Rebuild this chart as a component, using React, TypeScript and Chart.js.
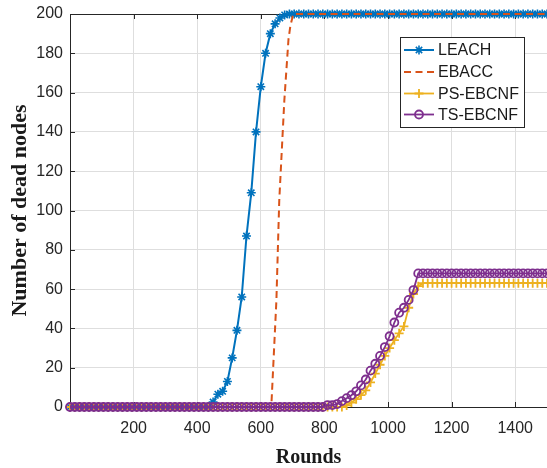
import React, { useEffect, useRef } from 'react';
import { Chart, registerables } from 'chart.js';
import { drawPoint } from 'chart.js/helpers';

Chart.register(...registerables);

// Rounds at which LEACH / PS-EBCNF / TS-EBCNF were sampled
const ROUNDS = [
  0, 15, 30, 45, 60, 75, 90, 105, 120, 135,
  150, 165, 180, 195, 210, 225, 240, 255, 270, 285,
  300, 315, 330, 345, 360, 375, 390, 405, 420, 435,
  450, 465, 480, 495, 510, 525, 540, 555, 570, 585,
  600, 615, 630, 645, 660, 675, 690, 705, 720, 735,
  750, 765, 780, 795, 810, 825, 840, 855, 870, 885,
  900, 915, 930, 945, 960, 975, 990, 1005, 1020, 1035,
  1050, 1065, 1080, 1095, 1110, 1125, 1140, 1155, 1170, 1185,
  1200, 1215, 1230, 1245, 1260, 1275, 1290, 1305, 1320, 1335,
  1350, 1365, 1380, 1395, 1410, 1425, 1440, 1455, 1470, 1485,
  1500,
];

const LEACH = [
  0, 0, 0, 0, 0, 0, 0, 0, 0, 0,
  0, 0, 0, 0, 0, 0, 0, 0, 0, 0,
  0, 0, 0, 0, 0, 0, 0, 0, 0, 0,
  2.5, 6.5, 8, 13, 25, 39, 56, 87, 109, 140,
  163, 180, 190, 195, 198, 199.5, 200, 200, 200, 200,
  200, 200, 200, 200, 200, 200, 200, 200, 200, 200,
  200, 200, 200, 200, 200, 200, 200, 200, 200, 200,
  200, 200, 200, 200, 200, 200, 200, 200, 200, 200,
  200, 200, 200, 200, 200, 200, 200, 200, 200, 200,
  200, 200, 200, 200, 200, 200, 200, 200, 200, 200,
  200,
];

const EBACC_ROUNDS = [0, 633, 649, 658, 674, 687, 693, 702, 1500];
const EBACC = [0, 0, 54, 105, 156, 187, 194, 200, 200];

const PS_EBCNF = [
  0, 0, 0, 0, 0, 0, 0, 0, 0, 0,
  0, 0, 0, 0, 0, 0, 0, 0, 0, 0,
  0, 0, 0, 0, 0, 0, 0, 0, 0, 0,
  0, 0, 0, 0, 0, 0, 0, 0, 0, 0,
  0, 0, 0, 0, 0, 0, 0, 0, 0, 0,
  0, 0, 0, 0, 0, 0, 0, 0, 0.8, 2.3,
  4, 6, 8.5, 12.5, 17, 21.5, 26, 30, 34, 37.5,
  41, 50.5, 57.5, 61.5, 63, 63, 63, 63, 63, 63,
  63, 63, 63, 63, 63, 63, 63, 63, 63, 63,
  63, 63, 63, 63, 63, 63, 63, 63, 63, 63,
  63,
];

const TS_EBCNF = [
  0, 0, 0, 0, 0, 0, 0, 0, 0, 0,
  0, 0, 0, 0, 0, 0, 0, 0, 0, 0,
  0, 0, 0, 0, 0, 0, 0, 0, 0, 0,
  0, 0, 0, 0, 0, 0, 0, 0, 0, 0,
  0, 0, 0, 0, 0, 0, 0, 0, 0, 0,
  0, 0, 0, 0, 1, 1, 1.5, 3, 4.5, 6,
  8, 11, 14, 18.5, 22, 26, 30.5, 36, 43, 48,
  50.5, 54.5, 59.5, 68, 68, 68, 68, 68, 68, 68,
  68, 68, 68, 68, 68, 68, 68, 68, 68, 68,
  68, 68, 68, 68, 68, 68, 68, 68, 68, 68,
  68,
];

const X_TICKS = [200, 400, 600, 800, 1000, 1200, 1400];
const Y_TICKS = [0, 20, 40, 60, 80, 100, 120, 140, 160, 180, 200];
const SERIES_NAMES = ['LEACH', 'EBACC', 'PS-EBCNF', 'TS-EBCNF'];
const X_TITLE = 'Rounds';
const Y_TITLE = 'Number of dead nodes';

const AXIS_COLOR = '#262626';
const GRID_COLOR = '#dedede';

const framePlugin = {
  id: 'frame',
  beforeDatasetsDraw(chart: any) {
    const { ctx, chartArea, scales } = chart;
    const { left, right, top, bottom } = chartArea;
    ctx.save();
    ctx.strokeStyle = AXIS_COLOR;
    ctx.lineWidth = 1;
    ctx.beginPath();
    ctx.moveTo(left, top + 0.5);
    ctx.lineTo(right, top + 0.5);
    X_TICKS.forEach((v) => {
      const px = Math.round(scales.x.getPixelForValue(v)) + 0.5;
      ctx.moveTo(px, bottom);
      ctx.lineTo(px, bottom - 5);
      ctx.moveTo(px, top);
      ctx.lineTo(px, top + 5);
    });
    Y_TICKS.forEach((v) => {
      const py = Math.round(scales.y.getPixelForValue(v)) + 0.5;
      ctx.moveTo(left, py);
      ctx.lineTo(left + 5, py);
    });
    ctx.stroke();
    ctx.restore();
  },
};

const legendBoxPlugin = {
  id: 'legendBox',
  afterDraw(chart: any) {
    const { ctx } = chart;
    const bx = 400;
    const by = 37;
    const bw = 124;
    const bh = 90;
    ctx.save();
    ctx.fillStyle = '#ffffff';
    ctx.fillRect(bx, by, bw, bh);
    ctx.strokeStyle = AXIS_COLOR;
    ctx.lineWidth = 1;
    ctx.strokeRect(Math.round(bx) + 0.5, Math.round(by) + 0.5, bw, bh);
    const rows = [13, 35, 56.5, 77.5];
    chart.data.datasets.forEach((ds: any, i: number) => {
      const y = by + rows[i];
      ctx.save();
      ctx.strokeStyle = ds.borderColor;
      ctx.lineWidth = ds.borderWidth;
      ctx.setLineDash(ds.borderDash || []);
      ctx.beginPath();
      ctx.moveTo(bx + 4, y);
      ctx.lineTo(bx + 34, y);
      ctx.stroke();
      ctx.setLineDash([]);
      if (ds.pointRadius > 0) {
        ctx.strokeStyle = ds.pointBorderColor;
        ctx.fillStyle = ds.pointBackgroundColor;
        ctx.lineWidth = ds.pointBorderWidth;
        drawPoint(ctx, { pointStyle: ds.pointStyle, radius: ds.pointRadius, rotation: 0, borderWidth: ds.pointBorderWidth } as any, bx + 19, y);
      }
      ctx.restore();
      ctx.fillStyle = '#1a1a1a';
      ctx.font = '16px "Liberation Sans", Arial, sans-serif';
      ctx.textAlign = 'left';
      ctx.textBaseline = 'middle';
      ctx.fillText(ds.label, bx + 38, y + 1);
    });
    ctx.restore();
  },
};

const zeroPadding = (s: any) => {
  s.paddingTop = 0;
  s.paddingBottom = 0;
  s.paddingLeft = 0;
  s.paddingRight = 0;
};

export default function App() {
  const ref = useRef<HTMLCanvasElement | null>(null);

  useEffect(() => {
    document.body.style.margin = '0';
    const canvas = ref.current;
    if (!canvas) return;
    const tickFont = { family: '"Liberation Sans", Arial, sans-serif', size: 16 };
    const chart = new Chart(canvas, {
      type: 'line',
      data: {
        datasets: [
          {
            label: SERIES_NAMES[0],
            data: ROUNDS.map((r, i) => ({ x: r, y: LEACH[i] })),
            borderColor: '#0072BD',
            backgroundColor: '#0072BD',
            borderWidth: 2,
            pointStyle: 'star',
            pointRadius: 4.5,
            pointBorderWidth: 1.6,
            pointBorderColor: '#0072BD',
            pointBackgroundColor: '#0072BD',
            order: 3,
            clip: 10,
          },
          {
            label: SERIES_NAMES[1],
            data: EBACC_ROUNDS.map((r, i) => ({ x: r, y: EBACC[i] })),
            borderColor: '#D95319',
            backgroundColor: '#D95319',
            borderWidth: 2,
            borderDash: [7, 4.5],
            pointRadius: 0,
            order: 2,
            clip: 10,
          },
          {
            label: SERIES_NAMES[2],
            data: ROUNDS.map((r, i) => ({ x: r, y: PS_EBCNF[i] })),
            borderColor: '#EDB120',
            backgroundColor: '#EDB120',
            borderWidth: 1.8,
            pointStyle: 'cross',
            pointRadius: 4.5,
            pointBorderWidth: 1.8,
            pointBorderColor: '#EDB120',
            pointBackgroundColor: '#EDB120',
            order: 1,
            clip: 10,
          },
          {
            label: SERIES_NAMES[3],
            data: ROUNDS.map((r, i) => ({ x: r, y: TS_EBCNF[i] })),
            borderColor: '#7E2F8E',
            backgroundColor: '#7E2F8E',
            borderWidth: 1.8,
            pointStyle: 'circle',
            pointRadius: 4,
            pointBorderWidth: 1.8,
            pointBorderColor: '#7E2F8E',
            pointBackgroundColor: 'rgba(255,255,255,0)',
            order: 0,
            clip: 10,
          },
        ] as any,
      },
      options: {
        animation: false,
        responsive: false,
        devicePixelRatio: 1,
        layout: { autoPadding: false, padding: { top: 14, right: 0, left: 0, bottom: 0 } },
        plugins: {
          legend: { display: false },
          tooltip: { enabled: false },
        },
        scales: {
          x: {
            type: 'linear',
            min: 0,
            max: 1500,
            afterBuildTicks: (s: any) => {
              s.ticks = X_TICKS.map((v) => ({ value: v }));
            },
            afterFit: (s: any) => {
              s.height = 61;
              zeroPadding(s);
            },
            grid: { color: GRID_COLOR, drawTicks: false, lineWidth: 1 },
            border: { color: AXIS_COLOR, width: 1 },
            ticks: { color: AXIS_COLOR, font: tickFont, padding: 12, maxRotation: 0, autoSkip: false, callback: (v: any) => String(v) },
            title: {
              display: true,
              text: X_TITLE,
              color: '#1a1a1a',
              font: { family: '"Liberation Serif", "Times New Roman", serif', size: 20, weight: 'bold', lineHeight: 1 },
              padding: { top: 0, bottom: 0.5 },
            },
          },
          y: {
            type: 'linear',
            min: 0,
            max: 200,
            afterBuildTicks: (s: any) => {
              s.ticks = Y_TICKS.map((v) => ({ value: v }));
            },
            afterFit: (s: any) => {
              s.width = 70;
              zeroPadding(s);
            },
            grid: { color: GRID_COLOR, drawTicks: false, lineWidth: 1 },
            border: { color: AXIS_COLOR, width: 1 },
            ticks: { color: AXIS_COLOR, font: tickFont, padding: 7, callback: (v: any) => String(v) },
            title: {
              display: true,
              text: Y_TITLE,
              color: '#1a1a1a',
              font: { family: '"Liberation Serif", "Times New Roman", serif', size: 22, weight: 'bold', lineHeight: 1 },
              padding: { top: 9, bottom: 0 },
            },
          },
        },
      } as any,
      plugins: [framePlugin, legendBoxPlugin],
    });
    return () => chart.destroy();
  }, []);

  return <canvas ref={ref} width={547} height={468} style={{ display: 'block' }} />;
}
